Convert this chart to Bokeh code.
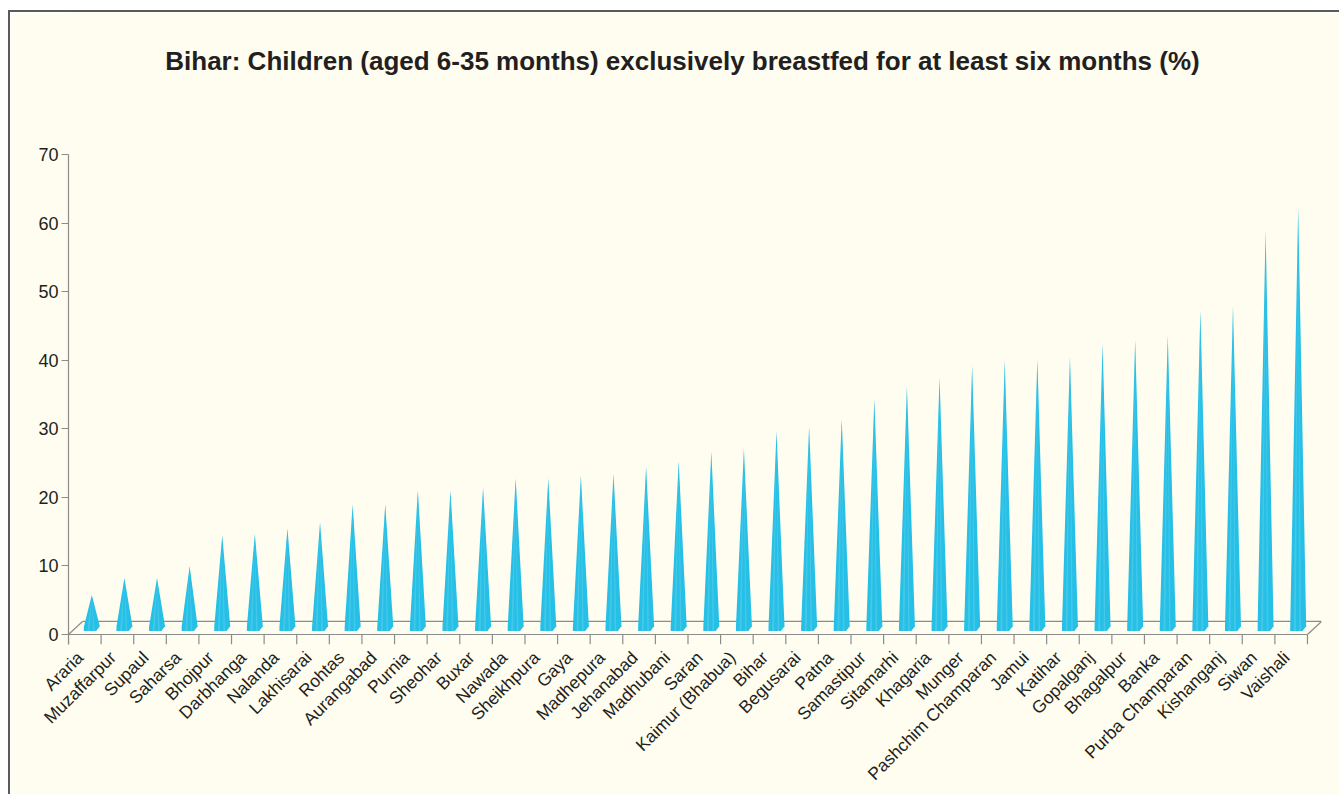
from bokeh.plotting import figure
from bokeh.models import Range1d, LinearAxis, FixedTicker
from bokeh.core.properties import value
from bokeh.embed import file_html
from bokeh.resources import INLINE

# ---- data ----
districts = ["Araria", "Muzaffarpur", "Supaul", "Saharsa", "Bhojpur", "Darbhanga",
             "Nalanda", "Lakhisarai", "Rohtas", "Aurangabad", "Purnia", "Sheohar",
             "Buxar", "Nawada", "Sheikhpura", "Gaya", "Madhepura", "Jehanabad",
             "Madhubani", "Saran", "Kaimur (Bhabua)", "Bihar", "Begusarai", "Patna",
             "Samastipur", "Sitamarhi", "Khagaria", "Munger", "Pashchim Champaran",
             "Jamui", "Katihar", "Gopalganj", "Bhagalpur", "Banka", "Purba Champaran",
             "Kishanganj", "Siwan", "Vaishali"]
values = [4.8, 7.3, 7.3, 9.0, 13.5, 13.7, 14.5, 15.4, 18.0, 18.0, 20.1, 20.1,
          20.5, 21.8, 21.8, 22.2, 22.5, 23.5, 24.3, 25.7, 26.1, 28.7, 29.4, 30.5,
          33.4, 35.2, 36.5, 38.2, 39.0, 39.2, 39.5, 41.4, 42.0, 42.6, 46.3, 46.9,
          57.9, 61.2]
y_ticks = [0, 10, 20, 30, 40, 50, 60, 70]
title_text = "Bihar: Children (aged 6-35 months) exclusively breastfed for at least six months (%)"

# ---- style ----
BG = "#FEFDEF"
CONE = "#26BFE5"
STRIPE = "#58CEEC"
GRID = "#8C8C8C"
TXT = "#231F20"
FONT = "Liberation Sans"

# ---- layout (pixels inside the figure) ----
FIG_W, FIG_H = 1331, 784
LEFT, RIGHT = 58, 20
AXIS_TOP = 142          # pixel row of the value 70
AXIS_ZERO = 622         # pixel row of the value 0
TICK_PX = 10
TITLE_ROW = 48
TITLE_COL = 672

n = len(districts)
depth_x = 0.43   # oblique depth offset (category units)
depth_y = 1.9    # oblique depth offset (value units)
half_w = 0.245
px_per_val = (AXIS_ZERO - AXIS_TOP) / y_ticks[-1]
tick_len = TICK_PX / px_per_val
frame_h = AXIS_ZERO + TICK_PX
y_top = y_ticks[-1] + AXIS_TOP / px_per_val
x_end = n + depth_x
px_per_cat = (FIG_W - LEFT - RIGHT) / x_end

p = figure(width=FIG_W, height=FIG_H, output_backend="svg", toolbar_location=None,
           x_range=Range1d(0, x_end), y_range=Range1d(-tick_len, y_top),
           min_border_left=LEFT, min_border_right=RIGHT, min_border_top=0,
           min_border_bottom=FIG_H - frame_h, background_fill_color=BG,
           border_fill_color=BG, outline_line_color=None,
           x_axis_type=None, y_axis_type=None)
p.grid.visible = False
p.title.visible = False
p.styles = {"margin-left": "8px", "margin-top": "10px",
            "border-left": "2px solid #5A5A5A", "border-top": "2px solid #5A5A5A"}

# title drawn inside the (extended) frame
p.text(x=[(TITLE_COL - LEFT) / px_per_cat],
       y=[y_ticks[-1] + (AXIS_TOP - TITLE_ROW) / px_per_val],
       text=[title_text], text_align="center", text_baseline="middle",
       text_font=value(FONT), text_font_style="bold", text_font_size="26px",
       text_color=TXT)

# floor (3D base plane) and front edge
fx = [[depth_x, n + depth_x], [0, depth_x], [n, n + depth_x], [0, n]]
fy = [[depth_y, depth_y], [0, depth_y], [0, depth_y], [0, 0]]
p.multi_line(fx, fy, line_color=GRID, line_width=1.2)

# category boundary ticks below the front edge
bx = list(range(n + 1))
p.segment(x0=bx, y0=[0] * (n + 1), x1=bx, y1=[-tick_len] * (n + 1),
          line_color=GRID, line_width=1.2)

# cones
cxs, cys, sxs, sys_ = [], [], [], []
mid = depth_y / 2
for i, v in enumerate(values):
    cx = i + 0.5 + depth_x / 2
    top = v + mid
    cxs.append([cx, cx + half_w, cx + half_w * 0.55, cx - half_w, cx - half_w])
    cys.append([top, mid + 0.25, mid - 0.45, mid - 0.45, mid + 0.15])
    sxs.append([cx, cx - half_w * 0.55, cx - half_w * 0.3])
    sys_.append([top, mid - 0.45, mid - 0.45])
    sxs.append([cx, cx + half_w * 0.15, cx + half_w * 0.35])
    sys_.append([top, mid - 0.45, mid - 0.45])
p.patches(cxs, cys, fill_color=CONE, line_color=None)
p.patches(sxs, sys_, fill_color=STRIPE, fill_alpha=0.6, line_color=None)

# y axis
yax = LinearAxis(ticker=FixedTicker(ticks=y_ticks), bounds=(-tick_len, y_ticks[-1]))
yax.axis_line_color = GRID
yax.axis_line_width = 1.2
yax.major_tick_line_color = GRID
yax.major_tick_in = 0
yax.major_tick_out = 7
yax.minor_tick_line_color = None
yax.major_label_text_font = FONT
yax.major_label_text_font_size = "18px"
yax.major_label_text_color = TXT
yax.major_label_standoff = 3
p.add_layout(yax, "left")

# x axis: district labels
lab_off = 0.36
p.extra_x_ranges = {"lab": Range1d(-lab_off, x_end - lab_off)}
xlab = LinearAxis(x_range_name="lab", ticker=FixedTicker(ticks=list(range(n))))
xlab.major_label_overrides = {i: d for i, d in enumerate(districts)}
xlab.axis_line_color = None
xlab.major_tick_line_color = None
xlab.major_tick_in = 0
xlab.major_tick_out = 0
xlab.minor_tick_line_color = None
xlab.major_label_orientation = 0.785398
xlab.major_label_text_font = FONT
xlab.major_label_text_font_size = "17.5px"
xlab.major_label_text_color = TXT
xlab.major_label_standoff = 10
p.add_layout(xlab, "below")

open("out.html", "w").write(file_html(p, INLINE))
